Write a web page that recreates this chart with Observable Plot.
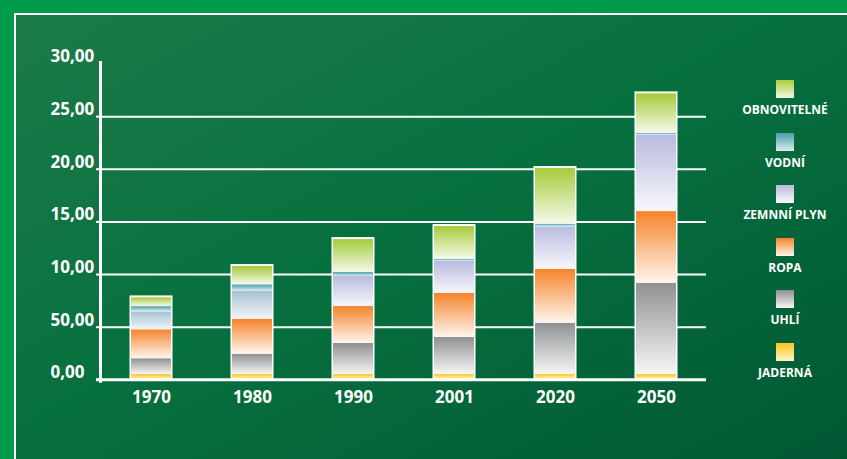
<!DOCTYPE html>
<html>
<head>
<meta charset="utf-8">
<script src="https://cdn.jsdelivr.net/npm/d3@7"></script>
<script src="https://cdn.jsdelivr.net/npm/@observablehq/plot@0.6"></script>
<style>
  html, body { margin: 0; padding: 0; }
  body { width: 847px; height: 459px; overflow: hidden; position: relative; background: #009a4b; font-family: "Open Sans", sans-serif; }
  #panel { position: absolute; left: 14px; top: 13px; width: 850px; height: 460px; border-top: 2px solid #fff; border-left: 2px solid #fff;
           background: linear-gradient(to bottom right, #1b7b48 0%, #07703f 45%, #005733 100%); }
  #chart { position: absolute; left: 0; top: 0; }
  #legend { position: absolute; left: 735px; top: 80px; width: 100px; }
  .item { height: 52.6px; display: flex; flex-direction: column; align-items: center; }
  .sw { width: 18px; height: 18px; }
  .lab { margin-top: 5px; color: #fff; font-weight: 700; font-size: 12px; line-height: 14px; white-space: nowrap; }
</style>
</head>
<body>
<div id="panel"></div>
<div id="chart"></div>
<div id="legend"></div>
<script>
// ---- data ----
const years = ["1970", "1980", "1990", "2001", "2020", "2050"];
const jaderna = [0.50, 0.53, 0.50, 0.53, 0.53, 0.53];
const uhli    = [1.50, 1.90, 2.95, 3.49, 4.85, 8.64];
const ropa    = [2.75, 3.32, 3.51, 4.20, 5.12, 6.81];
const plyn    = [1.70, 2.66, 2.85, 3.04, 4.03, 7.25];
const vodni   = [0.50, 0.61, 0.38, 0.19, 0.25, 0.19];
const obnov   = [0.83, 1.74, 3.13, 3.11, 5.29, 3.74];
const seriesNames = ["JADERNÁ", "UHLÍ", "ROPA", "ZEMNNÍ PLYN", "VODNÍ", "OBNOVITELNÉ"];
const seriesValues = [jaderna, uhli, ropa, plyn, vodni, obnov];
const plynEarlyYears = ["1970", "1980"];
const yTicks = [0, 5, 10, 15, 20, 25, 30];
const yLabels = ["0,00", "50,00", "10,00", "15,00", "20,00", "25,00", "30,00"];
const gridVals = [5, 10, 15, 20, 25];

// gradient colours (top -> bottom)
const colorKeys   = ["JADERNÁ", "UHLÍ", "ROPA", "ZEMNNÍ PLYN", "PLYN-EARLY", "VODNÍ", "OBNOVITELNÉ"];
const topColors   = ["#fcc51c", "#8e9092", "#f5842a", "#b8bbdf", "#a6c1d3", "#45a0aa", "#a5cc3a"];
const bottomColors= ["#fff4c8", "#f6f6f6", "#fff6ef", "#f8f8fc", "#f2f6f9", "#dcedef", "#f6f9ea"];

// ---- table ----
const rows = [];
years.forEach((yr, i) => {
  seriesNames.forEach((name, s) => {
    const key = (name === "ZEMNNÍ PLYN" && plynEarlyYears.includes(yr)) ? "PLYN-EARLY" : name;
    rows.push({year: yr, type: name, key, value: seriesValues[s][i]});
  });
});
const totals = years.map((yr, i) => ({year: yr, total: d3.sum(seriesValues, v => v[i])}));

const chart = Plot.plot({
  width: 847,
  height: 459,
  marginLeft: 100,
  marginRight: 141,
  marginTop: 63.5,
  marginBottom: 79.7,
  x: {domain: years, paddingInner: 0.604, paddingOuter: 0.302, axis: null},
  y: {domain: [0, 30], axis: null},
  color: {type: "ordinal", domain: colorKeys, range: colorKeys.map((k, i) => `url(#grad${i})`)},
  style: {background: "transparent", color: "white", fontFamily: "'Open Sans', sans-serif", fontWeight: 700, overflow: "visible"},
  marks: [
    Plot.ruleY(gridVals, {stroke: "white", strokeWidth: 2}),
    Plot.barY(totals, {x: "year", y: "total", fill: "white", insetTop: -2, insetLeft: -1.5, insetRight: -1.5}),
    Plot.barY(rows, Plot.stackY({order: seriesNames}, {x: "year", y: "value", z: "type", fill: "key"})),
    Plot.ruleY([0], {stroke: "white", strokeWidth: 3, insetLeft: -4}),
    Plot.frame({anchor: "left", stroke: "white", strokeWidth: 3, insetTop: -1.5, insetBottom: -1.5}),
    Plot.axisY(yTicks.slice(0, 6), {tickSize: 4, tickFormat: () => "", stroke: "white", strokeWidth: 2, label: null}),
    Plot.text(yTicks, {y: d => d, text: (d, i) => yLabels[i], frameAnchor: "left", textAnchor: "start", dx: -50, dy: -7, fontSize: 17, fill: "white"}),
    Plot.axisX({tickSize: 0, tickPadding: 11, fontSize: 17, fill: "white", label: null})
  ]
});

// gradients
const defs = d3.select(chart).insert("defs", ":first-child");
colorKeys.forEach((k, i) => {
  const g = defs.append("linearGradient").attr("id", `grad${i}`).attr("x1", 0).attr("y1", 0).attr("x2", 0).attr("y2", 1);
  g.append("stop").attr("offset", "0%").attr("stop-color", topColors[i]);
  g.append("stop").attr("offset", "100%").attr("stop-color", bottomColors[i]);
});
document.getElementById("chart").appendChild(chart);

// legend (top to bottom)
const legendOrder = ["OBNOVITELNÉ", "VODNÍ", "ZEMNNÍ PLYN", "ROPA", "UHLÍ", "JADERNÁ"];
const legend = d3.select("#legend");
legendOrder.forEach(name => {
  const i = colorKeys.indexOf(name);
  const it = legend.append("div").attr("class", "item");
  it.append("div").attr("class", "sw").style("background", `linear-gradient(${topColors[i]}, ${bottomColors[i]})`);
  it.append("div").attr("class", "lab").text(name);
});
</script>
</body>
</html>
